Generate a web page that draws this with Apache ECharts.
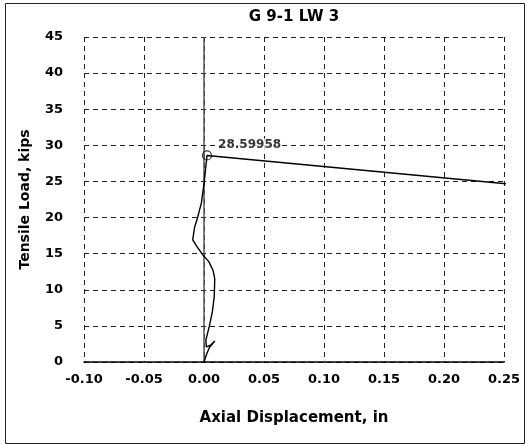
<!DOCTYPE html>
<html>
<head>
<meta charset="utf-8">
<script src="https://cdn.jsdelivr.net/npm/echarts@6/dist/echarts.min.js"></script>
<style>html,body{margin:0;padding:0;background:#fff}#c{width:527px;height:444px}</style>
</head>
<body>
<div id="c"></div>
<script>
var titleText = 'G 9-1 LW 3';
var xName = 'Axial Displacement, in';
var yName = 'Tensile Load, kips';
var dispX = [0, 0.002, 0.0045, 0.009, 0.0055, 0.002, 0.0015, 0.0045, 0.0055, 0.007, 0.0085, 0.0089, 0.0089, 0.0075, 0.004, -0.0008, -0.006, -0.0094, -0.0078, -0.0055, -0.0038, -0.0022, 0, 0.0015, 0.0025, 0.254];
var loadY = [0, 1.0, 2.0, 2.9, 2.35, 2.1, 3.0, 5.0, 5.8, 7.0, 9.0, 11.1, 11.6, 12.7, 13.9, 14.8, 16.0, 16.9, 18.7, 19.9, 21.0, 22.0, 24.7, 27.0, 28.6, 24.65];
var peakX = [0.0025];
var peakY = [28.59958];
var zeroLineX = [0, 0];
var zeroLineY = [0, 45];

var F = 'DejaVu Sans';
function zip(a, b) { return a.map(function (v, i) { return [v, b[i]]; }); }

var chart = echarts.init(document.getElementById('c'), null, {renderer: 'canvas'});
chart.setOption({
  animation: false,
  backgroundColor: '#fff',
  graphic: [{
    type: 'rect', left: 3, top: 1, shape: {width: 519, height: 440},
    style: {fill: 'none', stroke: '#222', lineWidth: 1}, silent: true
  }],
  title: {
    text: titleText, left: 289, top: 5, textAlign: 'center',
    textStyle: {fontFamily: F, fontWeight: 'bold', fontSize: 15, color: '#000'}
  },
  grid: {left: 84, right: 23, top: 37, bottom: 82},
  xAxis: {
    type: 'value', min: -0.1, max: 0.25, interval: 0.05,
    name: xName, nameLocation: 'middle', nameGap: 49,
    nameTextStyle: {fontFamily: F, fontWeight: 'bold', fontSize: 15, color: '#000'},
    axisLine: {show: true, onZero: false, lineStyle: {color: '#000', width: 1.5}},
    axisTick: {show: false},
    axisLabel: {margin: 11, fontFamily: F, fontWeight: 'bold', fontSize: 13, color: '#000',
      formatter: function (v) { return v.toFixed(2); }},
    splitLine: {show: true, lineStyle: {color: '#222', type: [5, 4], width: 1}}
  },
  yAxis: {
    type: 'value', min: 0, max: 45, interval: 5,
    name: yName, nameLocation: 'middle', nameGap: 52, nameRotate: 90,
    nameTextStyle: {fontFamily: F, fontWeight: 'bold', fontSize: 14, color: '#000'},
    axisLine: {show: false},
    axisTick: {show: false},
    axisLabel: {margin: 21, fontFamily: F, fontWeight: 'bold', fontSize: 13, color: '#000'},
    splitLine: {show: true, lineStyle: {color: '#222', type: [5, 4], width: 1}}
  },
  series: [
    {
      type: 'line', data: zip(zeroLineX, zeroLineY), symbol: 'none', silent: true,
      lineStyle: {color: '#555', width: 1.5}, z: 1
    },
    {
      type: 'line', data: zip(dispX, loadY), symbol: 'none', clip: false, smooth: false,
      lineStyle: {color: '#000', width: 1.4}, z: 3
    },
    {
      type: 'scatter', data: zip(peakX, peakY), symbol: 'circle', symbolSize: 9, clip: false,
      itemStyle: {color: 'rgba(0,0,0,0)', borderColor: '#000', borderWidth: 1.2}, z: 4,
      label: {show: true, position: 'right', distance: 5, offset: [0, -11],
        backgroundColor: '#fff', padding: [0, 1],
        fontFamily: F, fontWeight: 'bold', fontSize: 12, color: '#000',
        formatter: function (p) { return String(p.value[1]); }}
    }
  ]
});
</script>
</body>
</html>
